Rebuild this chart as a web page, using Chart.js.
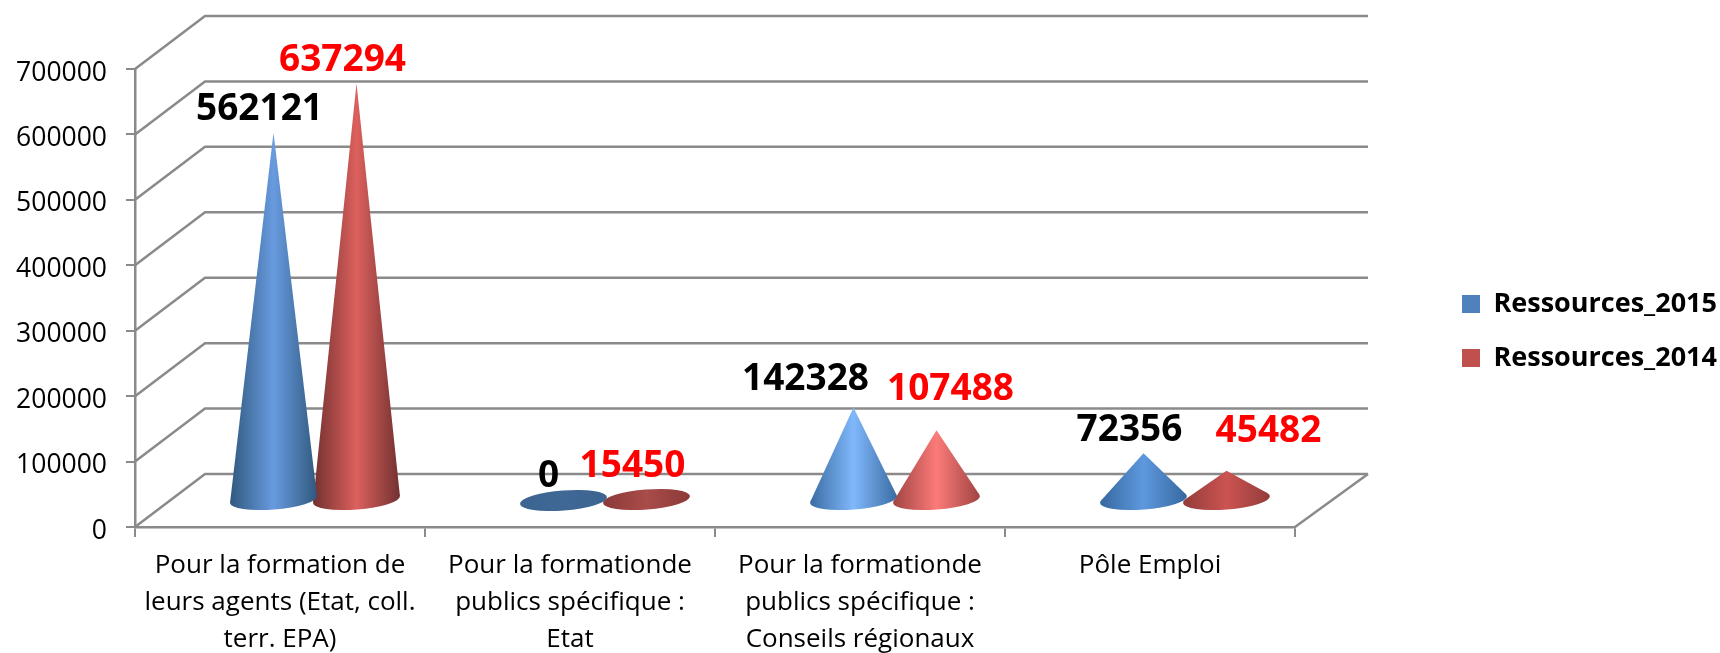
<!DOCTYPE html>
<html lang="fr">
<head>
<meta charset="utf-8">
<title>Ressources</title>
<script src="https://cdn.jsdelivr.net/npm/chart.js@4"></script>
<style>
html,body{margin:0;padding:0;background:#fff;overflow:hidden}
#wrap{width:1720px;height:653px}
canvas{display:block}
</style>
</head>
<body>
<div id="wrap"><canvas id="c" width="1720" height="653"></canvas></div>
<script>
const categories = [
  ["Pour la formation de", "leurs agents (Etat, coll.", "terr. EPA)"],
  ["Pour la formationde", "publics spécifique :", "Etat"],
  ["Pour la formationde", "publics spécifique :", "Conseils régionaux"],
  ["Pôle Emploi"]
];
const ressources2015 = [562121, 0, 142328, 72356];
const ressources2014 = [637294, 15450, 107488, 45482];
const yTickMax = 700000;
const yTickStep = 100000;

const FONT = '"Open Sans", sans-serif';
const GRID = '#8a8a8a';
const GRID_W = 2.5;
const DEPTH_X = 70, DEPTH_Y = 53;
const RIGHT_EXTRA = 3;

/* shading of each cone: [edge, centre] */
const shades2015 = [['#30597f','#689bdf'],['#3c6491','#3f6896'],['#3a6ca3','#80b8fb'],['#36689f','#5e98de']];
const shades2014 = [['#713130','#dc605d'],['#8b3a38','#a94c4a'],['#a04442','#fb7b79'],['#923c3a','#cb5451']];
/* label offset from the apex of each cone: [dx, dy of the text baseline] */
const labelShift2015 = [[-14,-13],[-15,-14],[-48,-17],[-14,-12]];
const labelShift2014 = [[-14,-13],[-14,-13],[14,-30],[42,-29]];

const styleByDataset = [
  {shades: shades2015, shift: labelShift2015, color: '#000000'},
  {shades: shades2014, shift: labelShift2014, color: '#ff0000'}
];

const wallPlugin = {
  id: 'wall',
  beforeDatasetsDraw(chart) {
    const {ctx, chartArea: a, scales: {y}} = chart;
    ctx.save();
    ctx.strokeStyle = GRID;
    ctx.lineWidth = GRID_W;
    y.ticks.forEach(t => {
      const py = y.getPixelForValue(t.value);
      ctx.beginPath();
      ctx.moveTo(a.left, py);
      ctx.lineTo(a.left + DEPTH_X, py - DEPTH_Y);
      ctx.lineTo(a.right + DEPTH_X + RIGHT_EXTRA, py - DEPTH_Y);
      ctx.stroke();
    });
    ctx.beginPath();
    ctx.moveTo(a.right, a.bottom);
    ctx.lineTo(a.right + DEPTH_X + RIGHT_EXTRA, a.bottom - DEPTH_Y);
    ctx.stroke();
    ctx.restore();
  }
};

function drawCone(ctx, cx, baseY, apexY, rx, shade) {
  const ry = 10;
  const tilt = -4.5 * Math.PI / 180;
  const g = ctx.createLinearGradient(cx - rx, 0, cx + rx, 0);
  g.addColorStop(0, shade[0]);
  g.addColorStop(0.5, shade[1]);
  g.addColorStop(1, shade[0]);
  ctx.fillStyle = g;
  ctx.beginPath();
  ctx.ellipse(cx, baseY, rx, ry, tilt, 0, Math.PI * 2);
  ctx.fill();
  /* apex in the frame of the ellipse, scaled so the ellipse is a unit circle */
  const h = apexY - baseY;
  const u = (h * Math.sin(tilt)) / rx;
  const v = (h * Math.cos(tilt)) / ry;
  const d = Math.hypot(u, v);
  if (d <= 1) return;
  const phi = Math.atan2(v, u), alpha = Math.acos(1 / d);
  const tangent = ang => {
    const ex = rx * Math.cos(ang), ey = ry * Math.sin(ang);
    return [cx + ex * Math.cos(tilt) - ey * Math.sin(tilt), baseY + ex * Math.sin(tilt) + ey * Math.cos(tilt)];
  };
  const t1 = tangent(phi - alpha), t2 = tangent(phi + alpha);
  ctx.beginPath();
  ctx.moveTo(t1[0], t1[1]);
  ctx.lineTo(cx, apexY);
  ctx.lineTo(t2[0], t2[1]);
  ctx.closePath();
  ctx.fill();
}

const conePlugin = {
  id: 'cones',
  beforeDatasetDraw(chart, args) {
    const ctx = chart.ctx;
    const st = styleByDataset[args.index];
    ctx.save();
    args.meta.data.forEach((el, i) => {
      const p = el.getProps(['x', 'y', 'base', 'width'], true);
      drawCone(ctx, p.x + DEPTH_X / 2, p.base - DEPTH_Y / 2, p.y - DEPTH_Y / 2, p.width / 2, st.shades[i]);
    });
    ctx.restore();
    return false;
  },
  afterDatasetsDraw(chart) {
    const ctx = chart.ctx;
    ctx.save();
    ctx.font = 'bold 37px ' + FONT;
    ctx.textAlign = 'center';
    ctx.textBaseline = 'alphabetic';
    chart.data.datasets.forEach((ds, d) => {
      const st = styleByDataset[d];
      ctx.fillStyle = st.color;
      chart.getDatasetMeta(d).data.forEach((el, i) => {
        const p = el.getProps(['x', 'y'], true);
        const s = st.shift[i];
        ctx.fillText(String(ds.data[i]), p.x + DEPTH_X / 2 + s[0], p.y - DEPTH_Y / 2 + s[1]);
      });
    });
    ctx.restore();
  }
};

new Chart(document.getElementById('c'), {
  type: 'bar',
  data: {
    labels: categories,
    datasets: [
      {label: 'Ressources_2015', data: ressources2015, backgroundColor: '#4f81bd'},
      {label: 'Ressources_2014', data: ressources2014, backgroundColor: '#c0504d'}
    ]
  },
  plugins: [wallPlugin, conePlugin],
  options: {
    responsive: false,
    animation: false,
    categoryPercentage: 0.5724,
    barPercentage: 1.05,
    layout: {padding: {top: 9, left: 0, right: -2, bottom: 0}},
    plugins: {
      tooltip: {enabled: false},
      legend: {
        position: 'right',
        labels: {
          boxWidth: 18, boxHeight: 18, padding: 27,
          color: '#000',
          font: {family: FONT, size: 27, weight: 'bold'}
        }
      }
    },
    scales: {
      x: {
        offset: true,
        border: {color: GRID, width: GRID_W},
        grid: {drawOnChartArea: false, color: GRID, lineWidth: 2, tickLength: 10},
        ticks: {
          color: '#000', autoSkip: false, maxRotation: 0, minRotation: 0, padding: 10,
          font: {family: FONT, size: 26, lineHeight: 1.42}
        },
        afterFit(s) { s.height = 126; }
      },
      y: {
        min: 0, max: yTickMax,
        border: {color: GRID, width: GRID_W},
        grid: {drawOnChartArea: false, color: GRID, lineWidth: 2, tickLength: 9},
        ticks: {
          stepSize: yTickStep, color: '#000', padding: 19, labelOffset: 4,
          font: {family: FONT, size: 26.5},
          callback: v => String(v)
        },
        afterFit(s) { s.width = 135; }
      },
      gapRight: {
        position: 'right', display: true, type: 'linear',
        border: {display: false}, grid: {display: false}, ticks: {display: false},
        afterFit(s) { s.width = 140; }
      },
      gapTop: {
        position: 'top', display: true, type: 'linear',
        border: {display: false}, grid: {display: false}, ticks: {display: false},
        afterFit(s) { s.height = 60; }
      }
    }
  }
});
</script>
</body>
</html>
